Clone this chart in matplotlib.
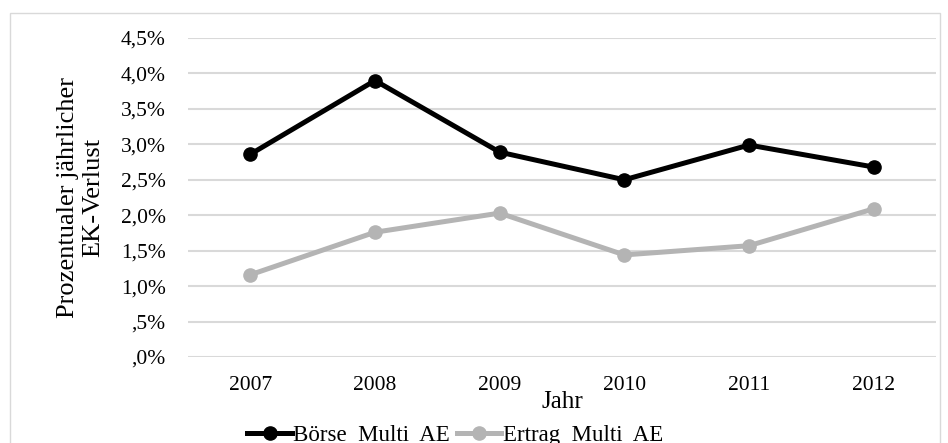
import matplotlib
matplotlib.use("Agg")
import matplotlib.pyplot as plt
from matplotlib.ticker import FuncFormatter
from matplotlib.patches import Rectangle

# ── Data ────────────────────────────────────────────────────────────
years = ["2007", "2008", "2009", "2010", "2011", "2012"]
boerse = [0.0286, 0.0390, 0.0289, 0.0250, 0.0299, 0.0268]
ertrag = [0.0116, 0.0176, 0.0203, 0.0144, 0.0157, 0.0209]
yticks = [0.0, 0.005, 0.01, 0.015, 0.02, 0.025, 0.03, 0.035, 0.04, 0.045]

plt.rcParams["font.family"] = ["Liberation Serif", "DejaVu Serif"]

fig = plt.figure(figsize=(9.48, 4.43), dpi=100)
ax = fig.add_axes([188 / 948, 1 - 357 / 443, (936 - 188) / 948, (357 - 38) / 443])

# outer chart-area border
fig.patches.append(Rectangle((10 / 948, -0.05), (940 - 10) / 948, 1 - 13 / 443 + 0.05,
                             transform=fig.transFigure, fill=False,
                             edgecolor="#D9D9D9", linewidth=1.0))

x = list(range(len(years)))
ax.plot(x, boerse, color="black", linewidth=3.6, marker="o", markersize=9.5,
        label="Börse  Multi  AE", zorder=3)
ax.plot(x, ertrag, color="#B4B4B4", linewidth=3.6, marker="o", markersize=9.5,
        label="Ertrag  Multi  AE", zorder=3)

ax.set_xlim(-0.5, len(years) - 0.5)
ax.set_ylim(0, 0.045)
ax.set_yticks(yticks)


def pct_fmt(v, pos):
    s = f"{v * 100:.1f}".replace(".", ",")
    if s.startswith("0,"):
        s = s[1:]
    return s + "%"


ax.yaxis.set_major_formatter(FuncFormatter(pct_fmt))
ax.set_xticks(x)
ax.set_xticklabels(years)
ax.tick_params(axis="both", length=0, labelsize=15.5)
ax.tick_params(axis="y", pad=16)
ax.tick_params(axis="x", pad=14)

ax.grid(axis="y", color="#D9D9D9", linewidth=1.5)
ax.set_axisbelow(True)
for sp in ax.spines.values():
    sp.set_visible(False)

ax.set_ylabel("Prozentualer jährlicher\nEK-Verlust", fontsize=19, linespacing=1.2,
              labelpad=12)
ax.set_xlabel("Jahr", fontsize=18, labelpad=-3)

leg = ax.legend(loc="upper center", bbox_to_anchor=(0.357, -0.185), ncol=2,
                frameon=False, fontsize=16.5, handlelength=1.95, handletextpad=0.05,
                columnspacing=0.3, borderaxespad=0)

fig.savefig("out.png", dpi=100)
